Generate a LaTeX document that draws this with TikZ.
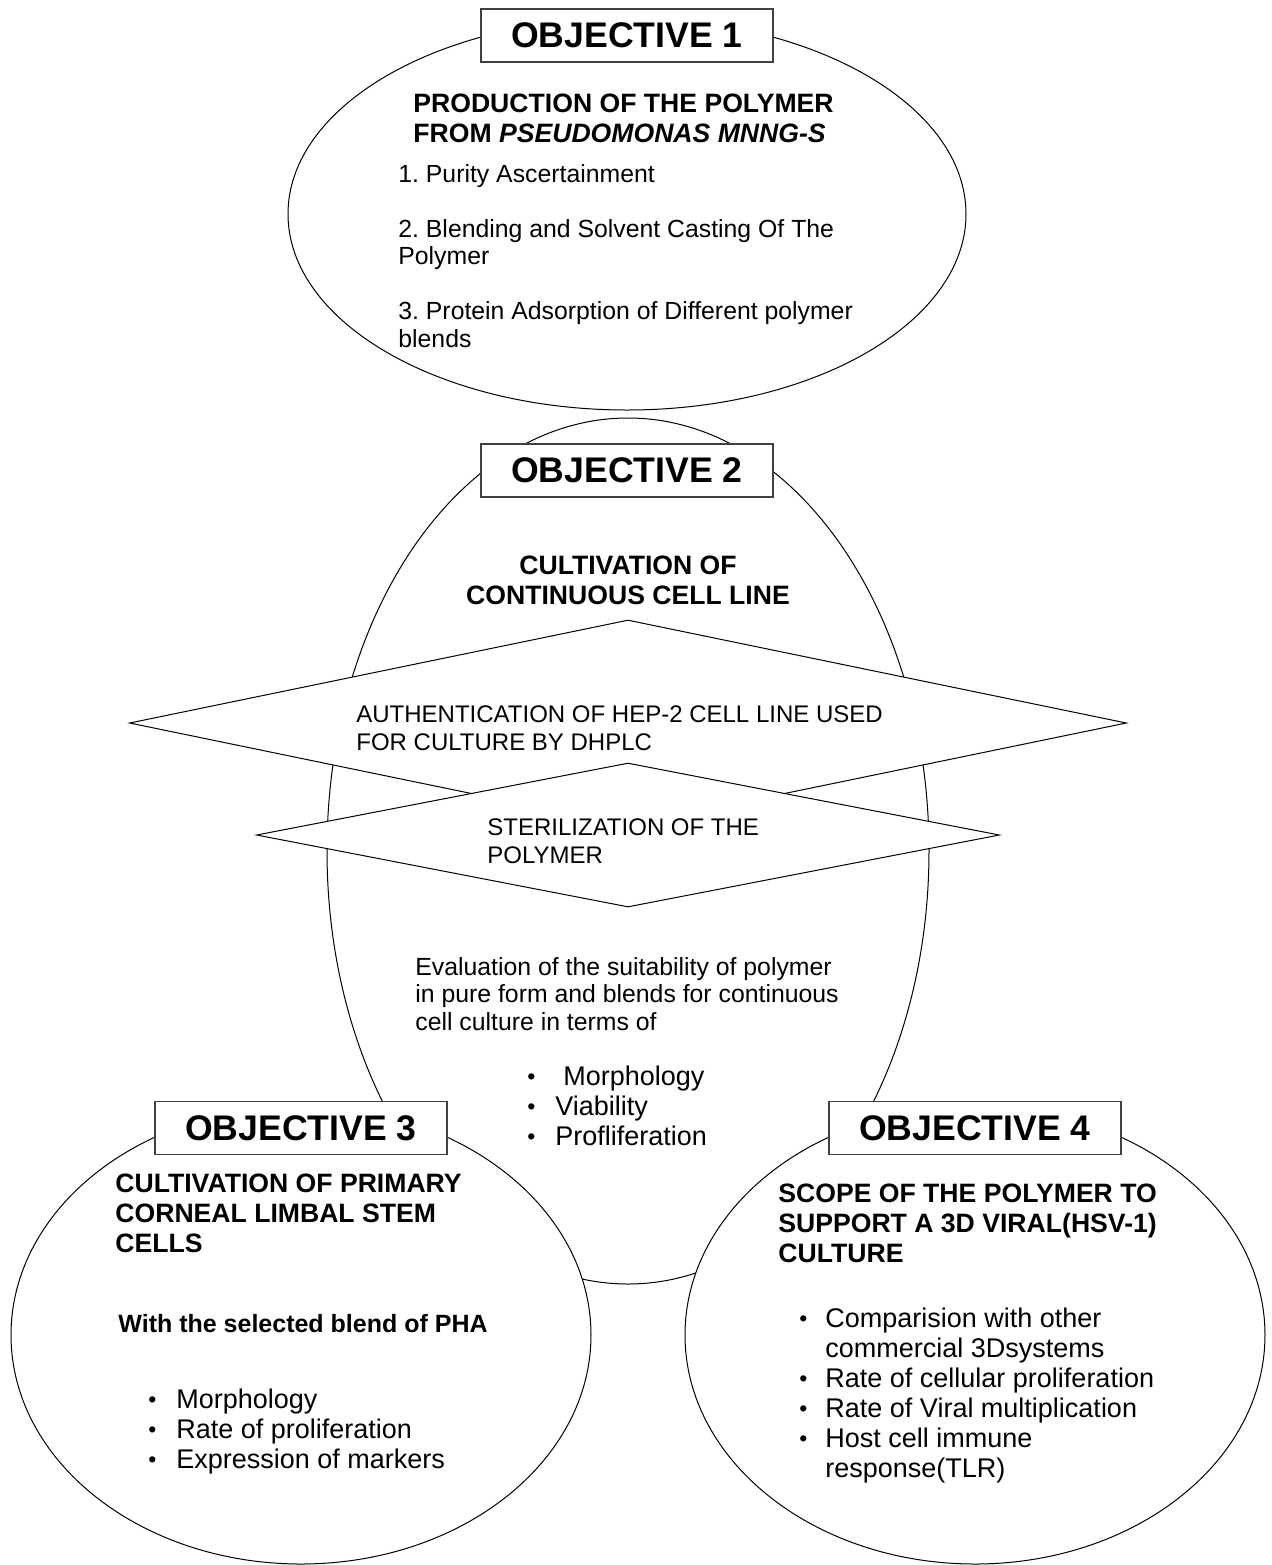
\documentclass[tikz,border=0pt]{standalone}
\usepackage{fontspec}
\setmainfont{Liberation Sans}
\usetikzlibrary{shapes.geometric}
\frenchspacing
\newcommand{\smalldot}{\raisebox{0.6pt}{\scalebox{0.85}{\textbullet}}}

\begin{document}
\begin{tikzpicture}[
    x=0.5pt, y=-0.5pt,
    blob/.style={ellipse,draw,fill=white,inner sep=0pt,line width=0.5pt},
    rhomb/.style={diamond,draw,fill=white,inner sep=0pt,line width=0.5pt},
    objbox/.style={rectangle,draw=black!75,fill=white,line width=0.8pt,
        minimum width=146pt,minimum height=26.5pt,inner sep=0pt,
        font=\bfseries\fontsize{17.8}{20}\selectfont},
    head/.style={anchor=north west,inner sep=0pt,align=left,
        font=\bfseries\fontsize{13.3}{15}\selectfont},
    body/.style={anchor=north west,inner sep=0pt,align=left,
        font=\fontsize{12.4}{13.75}\selectfont},
    blist/.style={anchor=north west,inner sep=0pt,
        font=\fontsize{13.5}{15}\selectfont}
]
\fill[white] (0,0) rectangle (1272,1565);

% the four objectives
\node[blob,minimum width=339pt,minimum height=196pt] (obj1) at (627,214) {};
\node[blob,minimum width=301pt,minimum height=433pt] (obj2) at (628,851) {};
\node[rhomb,minimum width=498.5pt,minimum height=103pt] (auth) at (628,723) {};
\node[rhomb,minimum width=371.5pt,minimum height=72pt] (steril) at (628,835) {};
\node[blob,minimum width=290pt,minimum height=229pt] (obj3) at (301,1335) {};
\node[blob,minimum width=290pt,minimum height=229pt] (obj4) at (975,1335) {};

% titles
\node[objbox] (t1) at (627,35.5) {OBJECTIVE 1};
\node[objbox] (t2) at (627,470.5) {OBJECTIVE 2};
\node[objbox] (t3) at (301,1128) {OBJECTIVE 3};
\node[objbox] (t4) at (975,1128) {OBJECTIVE 4};

% objective 1
\node[head] (h1) at (413,94) {PRODUCTION OF THE POLYMER\\FROM \textit{PSEUDOMONAS MNNG-S}};
\node[body] (s1) at (398,164) {1. Purity Ascertainment\\[13.75pt]
    2. Blending and Solvent Casting Of The\\Polymer\\[13.75pt]
    3. Protein Adsorption of Different polymer\\blends};

% objective 2
\node[head,anchor=north,align=center] (h2) at (628,556) {CULTIVATION OF\\CONTINUOUS CELL LINE};
\node[body,font=\fontsize{12}{14}\selectfont] (authtxt) at (356,705)
    {AUTHENTICATION OF HEP-2 CELL LINE USED\\FOR CULTURE BY DHPLC};
\node[body,font=\fontsize{12}{14}\selectfont] (sterilxt) at (487,818)
    {STERILIZATION OF THE\\POLYMER};
\node[body] (eval) at (415,957) {Evaluation of the suitability of polymer\\
    in pure form and blends for continuous\\cell culture in terms of};
\node[blist] (l2) at (527,1064) {\begin{tabular}{@{}l@{\hspace{10pt}}l@{}}
    \smalldot & \hspace{4pt}Morphology\\
    \smalldot & Viability\\
    \smalldot & Profliferation
\end{tabular}};

% objective 3
\node[head] (h3) at (115,1174) {CULTIVATION OF PRIMARY\\CORNEAL LIMBAL STEM\\CELLS};
\node[head,font=\bfseries\fontsize{12.5}{15}\selectfont] (pha) at (118,1314)
    {With the selected blend of PHA};
\node[blist] (l3) at (148,1387) {\begin{tabular}{@{}l@{\hspace{10pt}}l@{}}
    \smalldot & Morphology\\
    \smalldot & Rate of proliferation\\
    \smalldot & Expression of markers
\end{tabular}};

% objective 4
\node[head] (h4) at (778,1184) {SCOPE OF THE POLYMER TO\\SUPPORT A 3D VIRAL(HSV-1)\\CULTURE};
\node[blist] (l4) at (799,1306) {\begin{tabular}{@{}l@{\hspace{9pt}}l@{}}
    \smalldot & Comparision with other\\
              & commercial 3Dsystems\\
    \smalldot & Rate of cellular proliferation\\
    \smalldot & Rate of Viral multiplication\\
    \smalldot & Host cell immune\\
              & response(TLR)
\end{tabular}};
\end{tikzpicture}
\end{document}
